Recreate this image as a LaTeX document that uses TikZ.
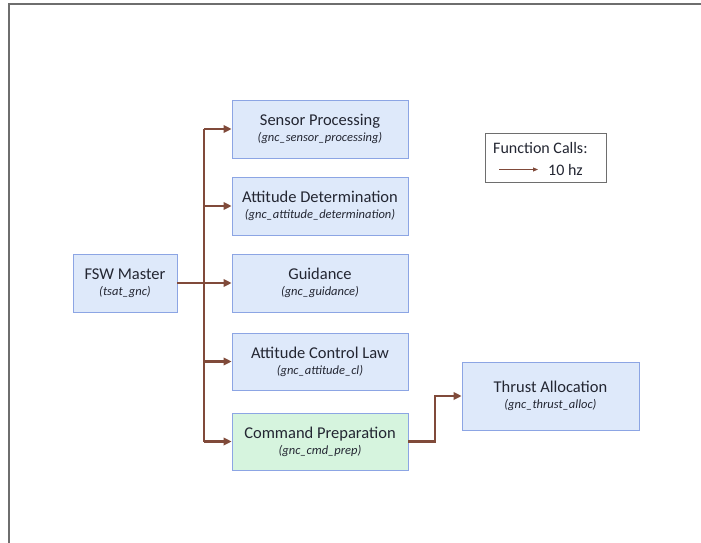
\documentclass[tikz,border=0pt]{standalone}
\usepackage{fontspec}
\setmainfont{Carlito}
\usetikzlibrary{arrows.meta}
\definecolor{boxfill}{RGB}{222,233,250}
\definecolor{boxline}{RGB}{140,165,228}
\definecolor{prepfill}{RGB}{214,244,222}
\definecolor{callline}{RGB}{128,74,58}
\definecolor{frameline}{RGB}{110,110,110}
\definecolor{textcol}{RGB}{35,38,50}
\begin{document}
\begin{tikzpicture}[x=1pt,y=-1pt,
  fnbox/.style={draw=boxline, fill=boxfill, line width=0.8pt, minimum width=176pt,
    minimum height=58pt, align=center, text=textcol, inner sep=0pt},
  call/.style={draw=callline, line width=2.2pt, -{Triangle[length=8pt,width=7.5pt]}},
  callplain/.style={draw=callline, line width=2.2pt}]
\useasboundingbox (0,0) rectangle (701,543);
\fill[white] (0,0) rectangle (701,543);
% frame
\draw[frameline, line width=1.2pt] (9,543) -- (9,4) -- (701,4);

\newcommand{\fntext}[2]{{\fontsize{16.5}{18}\selectfont #1}\\[4pt]{\fontsize{12.5}{14}\selectfont\itshape #2}}

\node[fnbox, minimum width=104pt] (fsw) at (125,283) {\fntext{FSW Master}{(tsat\_gnc)}};
\node[fnbox] (sens) at (320,129) {\fntext{Sensor Processing}{(gnc\_sensor\_processing)}};
\node[fnbox] (att) at (320,206) {\fntext{Attitude Determination}{(gnc\_attitude\_determination)}};
\node[fnbox] (guid) at (320,283) {\fntext{Guidance}{(gnc\_guidance)}};
\node[fnbox, minimum height=57pt] (acl) at (320,361.5) {\fntext{Attitude Control Law}{(gnc\_attitude\_cl)}};
\node[fnbox, fill=prepfill, minimum height=57pt] (prep) at (320,441.5) {\fntext{Command Preparation}{(gnc\_cmd\_prep)}};
\node[fnbox, minimum width=177pt, minimum height=68pt] (thr) at (550.5,396) {\fntext{Thrust Allocation}{(gnc\_thrust\_alloc)}};

% legend
\node[draw=frameline, line width=0.8pt, minimum width=121pt, minimum height=49pt, inner sep=0pt] (leg) at (545.5,157.5) {};
\node[text=textcol, anchor=west, inner sep=0pt] (legtitle) at (493,148) {\fontsize{16}{18}\selectfont Function Calls:};
\coordinate (lega) at (499,169.5);
\coordinate (legb) at (538,169.5);
\draw[draw=callline, line width=1pt, -{Triangle[length=5pt,width=4pt]}] (lega) -- (legb);
\node[text=textcol, anchor=west, inner sep=0pt] (leghz) at (548,170) {\fontsize{16}{18}\selectfont 10 hz};

% call bus
\coordinate (bustop) at (204,129);
\coordinate (busbot) at (204,441.5);
\draw[callplain] (fsw.east) -- (204,283);
\draw[callplain] (bustop) -- (busbot);
\draw[call] (bustop) -- (sens.west);
\draw[call] (204,206) -- (att.west);
\draw[call] (204,283) -- (guid.west);
\draw[call] (204,361.5) -- (acl.west);
\draw[call] (busbot) -- (prep.west);
\draw[call] (prep.east) -- (435,441.5) |- (thr.west);
\end{tikzpicture}
\end{document}
